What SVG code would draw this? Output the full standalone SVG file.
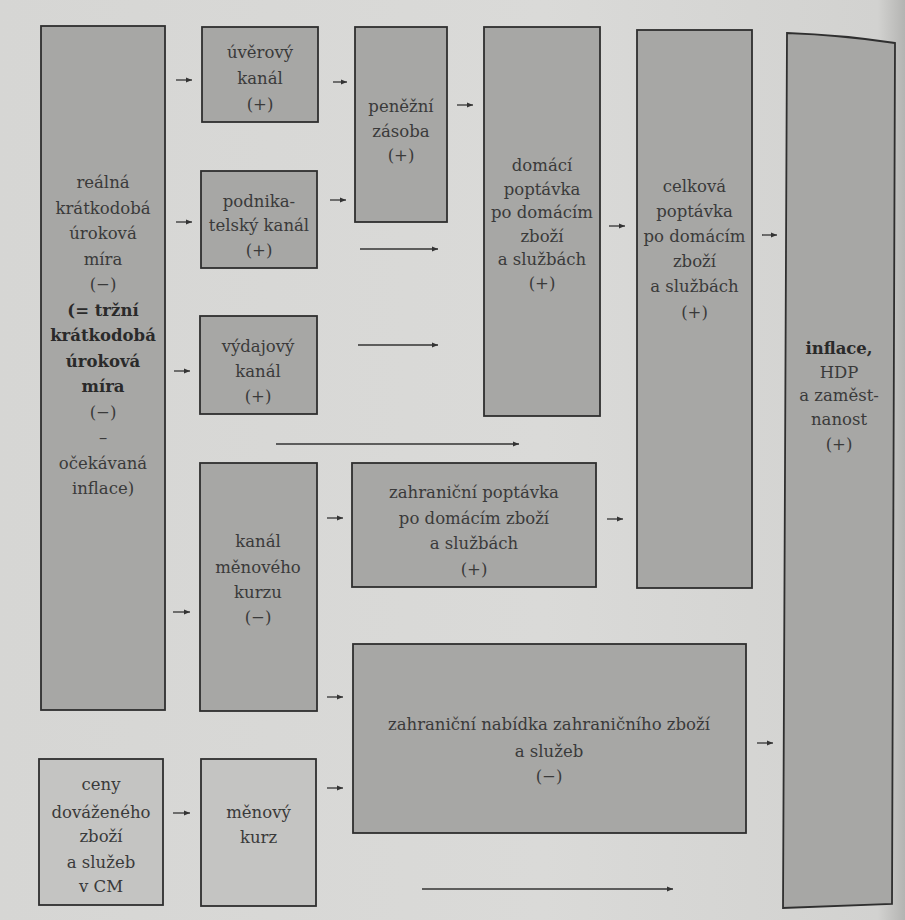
<svg xmlns="http://www.w3.org/2000/svg" width="905" height="920" viewBox="0 0 905 920">
<style>
.box{fill:#a7a7a5;stroke:#2f2f2f;stroke-width:1.8}
.lbox{fill:#c4c4c2;stroke:#2f2f2f;stroke-width:1.8}
text{font-family:"DejaVu Serif","Liberation Serif",serif;font-size:16.5px;fill:#3a3a3a;text-anchor:middle}
.b{font-weight:bold;fill:#2a2a2a}
.c line{stroke:#333;stroke-width:1.3;marker-end:url(#ah)}
</style>
<defs>
<linearGradient id="bg" x1="0" y1="0" x2="1" y2="0">
<stop offset="0" stop-color="#d6d6d4"/>
<stop offset="0.6" stop-color="#dadad8"/>
<stop offset="0.97" stop-color="#d2d2d0"/>
<stop offset="1" stop-color="#b4b4b2"/>
</linearGradient>
<marker id="ah" markerUnits="userSpaceOnUse" markerWidth="6" markerHeight="6" refX="6" refY="3" orient="auto">
<path d="M0,0.5 L6,3 L0,5.5 z" fill="#333"/>
</marker>
</defs>
<rect x="0" y="0" width="905" height="920" fill="url(#bg)"/>

<g id="realna-mira">
<rect class="box" x="41" y="26" width="124" height="684"/>
<text x="103" y="188">reálná</text>
<text x="103" y="213.5">krátkodobá</text>
<text x="103" y="239">úroková</text>
<text x="103" y="264.5">míra</text>
<text x="103" y="290">(−)</text>
<text x="103" y="315.5" class="b">(= tržní</text>
<text x="103" y="341" class="b">krátkodobá</text>
<text x="103" y="366.5" class="b">úroková</text>
<text x="103" y="392" class="b">míra</text>
<text x="103" y="417.5">(−)</text>
<text x="103" y="443">–</text>
<text x="103" y="468.5">očekávaná</text>
<text x="103" y="494">inflace)</text>
</g>

<g id="uverovy-kanal">
<rect class="box" x="202" y="27" width="116" height="95"/>
<text x="260" y="58">úvěrový</text>
<text x="260" y="84">kanál</text>
<text x="260" y="110">(+)</text>
</g>

<g id="podnikatelsky-kanal">
<rect class="box" x="201" y="171" width="116" height="97"/>
<text x="259" y="207">podnika-</text>
<text x="259" y="231">telský kanál</text>
<text x="259" y="256">(+)</text>
</g>

<g id="vydajovy-kanal">
<rect class="box" x="200" y="316" width="117" height="98"/>
<text x="258" y="352">výdajový</text>
<text x="258" y="377">kanál</text>
<text x="258" y="402">(+)</text>
</g>

<g id="kanal-menoveho-kurzu">
<rect class="box" x="200" y="463" width="117" height="248"/>
<text x="258" y="547">kanál</text>
<text x="258" y="573">měnového</text>
<text x="258" y="598">kurzu</text>
<text x="258" y="623">(−)</text>
</g>

<g id="ceny-dovazeneho">
<rect class="lbox" x="39" y="759" width="124" height="146"/>
<text x="101" y="790">ceny</text>
<text x="101" y="818">dováženého</text>
<text x="101" y="842">zboží</text>
<text x="101" y="868">a služeb</text>
<text x="101" y="892">v CM</text>
</g>

<g id="menovy-kurz">
<rect class="lbox" x="201" y="759" width="115" height="147"/>
<text x="258.5" y="818">měnový</text>
<text x="258.5" y="843">kurz</text>
</g>

<g id="penezni-zasoba">
<rect class="box" x="355" y="27" width="92" height="195"/>
<text x="401" y="112">peněžní</text>
<text x="401" y="137">zásoba</text>
<text x="401" y="161">(+)</text>
</g>

<g id="domaci-poptavka">
<rect class="box" x="484" y="27" width="116" height="389"/>
<text x="542" y="171">domácí</text>
<text x="542" y="195">poptávka</text>
<text x="542" y="218">po domácím</text>
<text x="542" y="242">zboží</text>
<text x="542" y="265">a službách</text>
<text x="542" y="289">(+)</text>
</g>

<g id="celkova-poptavka">
<rect class="box" x="637" y="30" width="115" height="558"/>
<text x="694.5" y="192">celková</text>
<text x="694.5" y="217">poptávka</text>
<text x="694.5" y="242">po domácím</text>
<text x="694.5" y="267">zboží</text>
<text x="694.5" y="292">a službách</text>
<text x="694.5" y="318">(+)</text>
</g>

<g id="zahranicni-poptavka">
<rect class="box" x="352" y="463" width="244" height="124"/>
<text x="474" y="498">zahraniční poptávka</text>
<text x="474" y="524">po domácím zboží</text>
<text x="474" y="549">a službách</text>
<text x="474" y="575">(+)</text>
</g>

<g id="zahranicni-nabidka">
<rect class="box" x="353" y="644" width="393" height="189"/>
<text x="549" y="730">zahraniční nabídka zahraničního zboží</text>
<text x="549" y="757">a služeb</text>
<text x="549" y="782">(−)</text>
</g>

<g id="inflace-hdp">
<path class="box" d="M787,33 Q842,35 895,43 L892,904 L783,908 Z"/>
<text x="839" y="354" class="b">inflace,</text>
<text x="839" y="378">HDP</text>
<text x="839" y="401">a zaměst-</text>
<text x="839" y="425">nanost</text>
<text x="839" y="450">(+)</text>
</g>

<g id="connectors" class="c">
<line x1="176" y1="80" x2="192" y2="80"/>
<line x1="333" y1="82" x2="347" y2="82"/>
<line x1="176" y1="222" x2="192" y2="222"/>
<line x1="330" y1="200" x2="346" y2="200"/>
<line x1="360" y1="249" x2="438" y2="249"/>
<line x1="457" y1="105" x2="473" y2="105"/>
<line x1="609" y1="226" x2="625" y2="226"/>
<line x1="762" y1="235" x2="777" y2="235"/>
<line x1="174" y1="371" x2="190" y2="371"/>
<line x1="358" y1="345" x2="438" y2="345"/>
<line x1="276" y1="444" x2="519" y2="444"/>
<line x1="327" y1="518" x2="343" y2="518"/>
<line x1="607" y1="519" x2="623" y2="519"/>
<line x1="173" y1="612" x2="190" y2="612"/>
<line x1="327" y1="697" x2="343" y2="697"/>
<line x1="173" y1="813" x2="190" y2="813"/>
<line x1="327" y1="788" x2="343" y2="788"/>
<line x1="422" y1="889" x2="673" y2="889"/>
<line x1="757" y1="743" x2="773" y2="743"/>
</g>
</svg>
